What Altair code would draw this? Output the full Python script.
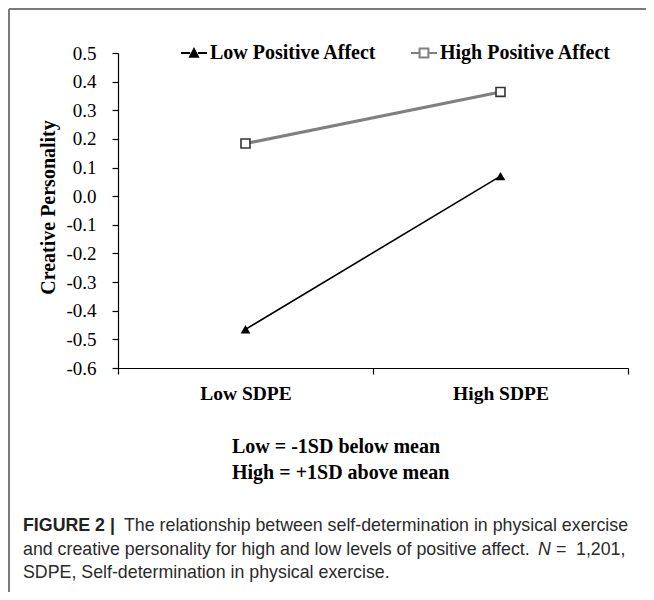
import altair as alt
import pandas as pd

# ---------------- data ----------------
sdpe = ["Low SDPE", "High SDPE"]
series = ["Low Positive Affect", "High Positive Affect"]
low_pa = [-0.465, 0.070]
high_pa = [0.184, 0.364]
y_ticks = [0.5, 0.4, 0.3, 0.2, 0.1, 0.0, -0.1, -0.2, -0.3, -0.4, -0.5, -0.6]
note_lines = ["Low = -1SD below mean", "High = +1SD above mean"]
caption_bold = "FIGURE 2 |"
caption_l1 = "The relationship between self-determination in physical exercise"
caption_l2 = "and creative personality for high and low levels of positive affect."
caption_n = "N"
caption_eq = "="
caption_num = "1,201,"
caption_l3 = "SDPE, Self-determination in physical exercise."

df = pd.DataFrame({
    "sdpe": sdpe + sdpe,
    "series": [series[0]] * 2 + [series[1]] * 2,
    "value": low_pa + high_pa,
})

SERIF = "Liberation Serif"
SANS = "Liberation Sans"

x_enc = alt.X(
    "sdpe:N", sort=sdpe,
    scale=alt.Scale(type="band", domain=sdpe, paddingInner=0, paddingOuter=0),
    axis=alt.Axis(title=None, labelAngle=0, tickBand="extent", tickSize=6,
                  tickColor="black", domainColor="black", domainWidth=1.2,
                  tickWidth=1.2, labelFont=SERIF, labelFontWeight="bold",
                  labelFontSize=19.5, labelColor="black", labelPadding=10,
                  grid=False),
)
y_enc = alt.Y(
    "value:Q",
    scale=alt.Scale(domain=[-0.6, 0.5], nice=False, zero=False),
    axis=alt.Axis(values=y_ticks,
                  labelExpr="replace(format(datum.value, '.1f'), '\u2212', '-')",
                  title="Creative Personality", titleFont=SERIF,
                  titleFontWeight="bold", titleFontSize=20, titleColor="black",
                  titleAngle=270, titleAlign="center", titleBaseline="middle",
                  titleX=-70, titleY=154,
                  tickSize=6, tickColor="black", tickWidth=1.2,
                  domainColor="black", domainWidth=1.2,
                  labelFont=SERIF, labelFontSize=19, labelColor="black",
                  labelPadding=16, grid=False),
)

legend = alt.Legend(
    orient="none", legendX=62, legendY=-14, direction="horizontal", title=None,
    labelFont=SERIF, labelFontWeight="bold", labelFontSize=20,
    labelColor="black", labelLimit=400, labelOffset=2, columnPadding=30,
    symbolSize=676, symbolStrokeWidth=2, symbolOpacity=1, padding=0,
)

is_low = alt.datum.series == series[0]
is_high = alt.datum.series == series[1]

line_low = alt.Chart(df).transform_filter(is_low).mark_line(
    color="black", strokeWidth=1.6).encode(x=x_enc, y=y_enc)
line_high = alt.Chart(df).transform_filter(is_high).mark_line(
    color="#808080", strokeWidth=3.2).encode(x=x_enc, y=y_enc)

legend_layer = alt.Chart(df).mark_point(opacity=0, filled=True).encode(
    x=x_enc, y=y_enc,
    stroke=alt.Stroke("series:N", scale=alt.Scale(domain=series, range=["black", "#808080"]),
                      legend=legend),
    fill=alt.Fill("series:N", scale=alt.Scale(domain=series, range=["black", "white"]),
                  legend=legend),
    shape=alt.Shape("series:N", scale=alt.Scale(
        domain=series,
        range=["M-1,0H-0.3M0.3,0H1M-0.3,0.28L0,-0.3L0.3,0.28Z",
               "M-1,0H-0.34M0.34,0H1M-0.34,-0.34H0.34V0.34H-0.34Z"]),
        legend=legend),
)

tri = alt.Chart(df).transform_filter(is_low).mark_point(
    shape="triangle-up", filled=True, color="black", size=95, opacity=1
).encode(x=x_enc, y=y_enc)

sq = alt.Chart(df).transform_filter(is_high).mark_point(
    shape="square", filled=True, fill="white", stroke="#333333",
    strokeWidth=1.6, size=80, opacity=1
).encode(x=x_enc, y=y_enc)

one = pd.DataFrame({"k": [0]})

frame_left = alt.Chart(one).mark_rule(color="#7a7a7a", strokeWidth=2).encode(
    x=alt.value(-109), y=alt.value(-44), y2=alt.value(560))
frame_top = alt.Chart(one).mark_rule(color="#7a7a7a", strokeWidth=2).encode(
    x=alt.value(-109), x2=alt.value(540), y=alt.value(-44))


def text_layer(txt, x, y, **style):
    return alt.Chart(pd.DataFrame({"t": [txt]})).mark_text(
        align="left", baseline="middle", **style
    ).encode(text="t:N", x=alt.value(x), y=alt.value(y))


notes = text_layer("\n".join(note_lines), 114, 394, font=SERIF, fontWeight="bold",
                   fontSize=20, color="black", lineBreak="\n", lineHeight=26)

CAP = 17.8
cap_style = dict(font=SANS, fontSize=CAP, color="#2a2a2a")
cap1a = text_layer(caption_bold, -95, 473, font=SANS, fontSize=CAP,
                   fontWeight="bold", color="#222222")
cap1b = text_layer(caption_l1, 6, 473, **cap_style)
cap2a = text_layer(caption_l2, -95, 497, **cap_style)
cap2n = text_layer(caption_n, 420, 497, fontStyle="italic", **cap_style)
cap2e = text_layer(caption_eq, 438, 497, **cap_style)
cap2b = text_layer(caption_num, 458, 497, **cap_style)
cap3 = text_layer(caption_l3, -95, 520, **cap_style)

chart = alt.layer(
    frame_left, frame_top, line_low, line_high, legend_layer, tri, sq,
    notes, cap1a, cap1b, cap2a, cap2n, cap2e, cap2b, cap3,
).properties(
    width=510, height=315,
    autosize=alt.AutoSizeParams(type="none"),
    padding={"left": 110, "top": 45, "right": 18, "bottom": 224},
    background="white",
).configure_view(stroke=None)

chart.save("out.html", embed_options={"renderer": "svg", "actions": False})
